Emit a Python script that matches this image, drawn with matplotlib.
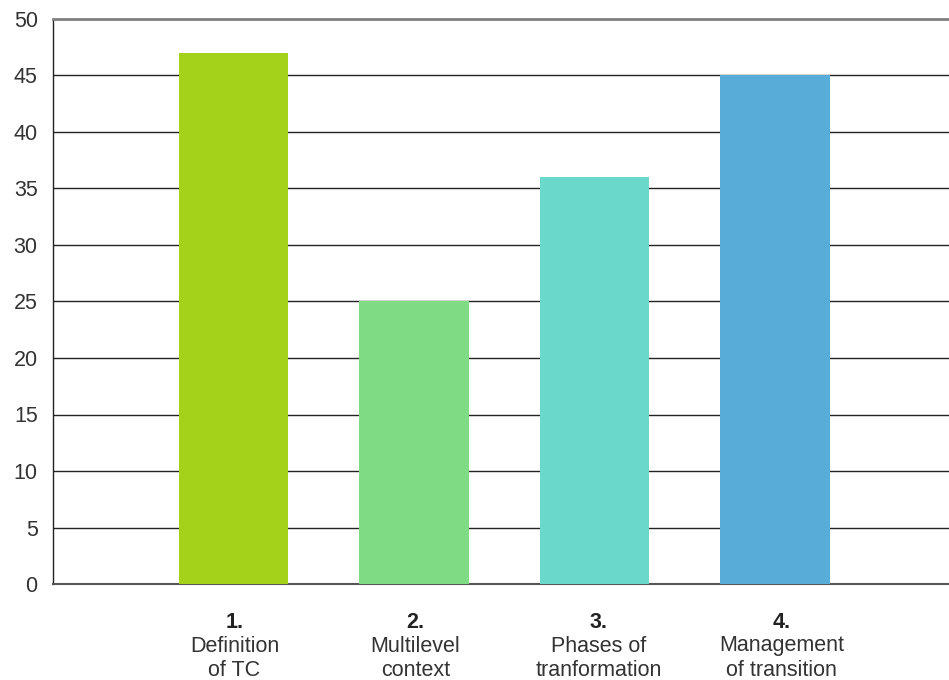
import matplotlib
matplotlib.use("Agg")
import matplotlib.pyplot as plt
import matplotlib.transforms as mtransforms

numbers = ["1.", "2.", "3.", "4."]
categories = ["Definition\nof TC", "Multilevel\ncontext", "Phases of\ntranformation", "Management\nof transition"]
values = [47, 25, 36, 45]
colors = ["#a4d11a", "#80dc84", "#6ad8ca", "#58acd8"]
yticks = [0, 5, 10, 15, 20, 25, 30, 35, 40, 45, 50]

plt.rcParams['font.family'] = ['Liberation Sans', 'DejaVu Sans']

fig = plt.figure(figsize=(9.49, 6.80), dpi=100)
W, H = 949, 680
ax = fig.add_axes([53 / W, 96 / H, 902.5 / W, 565 / H])

x = list(range(1, len(values) + 1))
ax.bar(x, values, width=0.604, color=colors, zorder=3)

ax.set_xlim(0, 5)
ax.set_ylim(0, 50)
ax.set_yticks(yticks)
ax.set_yticklabels([str(t) for t in yticks], fontsize=15.5, color="#333333")
ax.tick_params(axis='y', length=0, pad=11)
ax.set_xticks([])

for t in yticks[1:-1]:
    ax.axhline(t, color="#222222", linewidth=1.0, zorder=1)

ax.spines['right'].set_visible(False)
ax.spines['top'].set_color("#808080")
ax.spines['top'].set_linewidth(2)
ax.spines['left'].set_color("#222222")
ax.spines['left'].set_linewidth(1.0)
ax.spines['bottom'].set_color("#555555")
ax.spines['bottom'].set_linewidth(1.5)

trans = mtransforms.blended_transform_factory(ax.transData, fig.transFigure)
shifts_px = [1, 1.5, 4.5, 6.5]
for xi, num, cat, sp in zip(x, numbers, categories, shifts_px):
    tr = trans + mtransforms.ScaledTranslation(sp / 100, 0, fig.dpi_scale_trans)
    ax.text(xi, 1 - 622 / H, num, transform=tr, ha='center', va='center',
            fontsize=15.5, fontweight='bold', color="#222222")
    line1, line2 = cat.split("\n")
    ax.text(xi, 1 - 646 / H, line1, transform=tr, ha='center', va='center',
            fontsize=15.5, color="#333333")
    ax.text(xi, 1 - 671 / H, line2, transform=tr, ha='center', va='center',
            fontsize=15.5, color="#333333")

fig.savefig("out.png", dpi=100)
